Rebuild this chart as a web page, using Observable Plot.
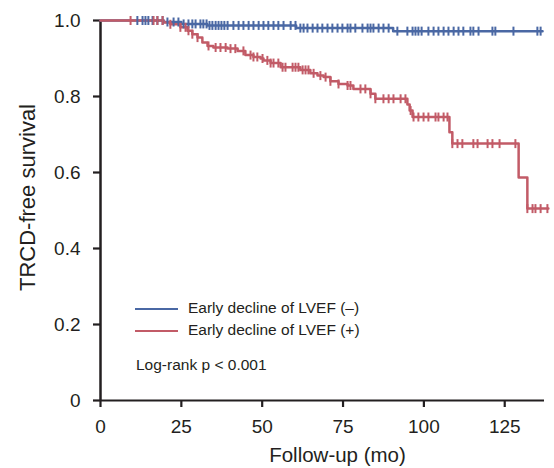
<!DOCTYPE html>
<html><head><meta charset="utf-8">
<script src="https://cdn.jsdelivr.net/npm/d3@7"></script>
<script src="https://cdn.jsdelivr.net/npm/@observablehq/plot@0.6"></script>
<style>
body{margin:0;background:#fff;font-family:"Liberation Sans",Arial,sans-serif;color:#231f20}
#wrap{position:relative;width:554px;height:468px}
.leg{position:absolute;font-size:15.5px;white-space:nowrap;line-height:1}
.leg .ln{position:absolute;width:43px;height:0;border-top:2.5px solid}
</style></head><body><div id="wrap"></div><script>
// Early decline of LVEF (–)
const blueTimes = [0, 19.5, 25, 33, 60.5, 90.5];
const blueSurv  = [1.0, 0.996, 0.991, 0.987, 0.980, 0.972];
const blueEnd = 136.7;
const blueCensor = [11.4,13.0,13.9,14.8,16.1,17.6,19.2,20.7,22.6,24.1,25.7,27.2,28.4,29.4,30.9,31.8,32.8,33.7,34.6,35.6,36.5,37.4,38.3,39.3,41.1,42.7,44.2,45.8,47.3,48.9,50.4,51.9,53.5,55.0,56.6,58.8,60.3,61.8,62.8,64.0,65.6,67.1,68.6,70.2,71.7,73.3,74.8,76.4,77.3,78.8,81.0,82.6,83.5,84.4,86.0,87.5,89.1,91.8,94.9,96.5,97.4,98.3,99.3,101.4,103.0,104.5,106.1,107.6,109.2,110.7,112.2,114.4,115.3,116.9,121.2,122.1,127.7,135.1,136.1];
// Early decline of LVEF (+)
const redTimes = [0,19.5,21.6,24.7,26.9,28.4,30.0,31.5,33.1,34.9,39.3,42.4,44.8,47.3,49.5,50.4,52.6,55.7,61.8,64.9,67.1,69.0,71.1,73.6,76.4,78.2,83.5,85.0,94.9,95.6,96.5,107.9,108.8,129.3,132.0];
const redSurv  = [1.0,0.995,0.990,0.982,0.973,0.964,0.955,0.942,0.933,0.929,0.926,0.920,0.909,0.904,0.900,0.895,0.888,0.877,0.870,0.861,0.855,0.851,0.840,0.833,0.829,0.820,0.807,0.794,0.779,0.763,0.746,0.706,0.676,0.587,0.505];
const redEnd = 138.5;
const redCensor = [9.3,16.4,17.6,19.2,21.6,24.7,26.3,27.2,28.4,30.0,33.4,35.6,37.1,38.7,40.2,41.7,44.2,46.4,47.3,48.5,50.1,51.6,52.6,53.5,55.0,56.3,57.2,59.4,60.3,61.2,62.5,63.4,64.3,65.9,68.0,69.6,71.1,73.6,76.4,77.3,80.4,81.9,83.5,85.0,87.5,89.1,90.6,92.8,94.3,95.9,96.8,98.3,99.9,101.4,103.6,104.5,106.1,107.3,108.8,110.4,111.9,115.3,116.6,119.7,121.2,123.4,128.3,132.0,133.6,134.5,136.1,138.2];

const xTicks = [0,25,50,75,100,125];
const yTicks = [0,0.2,0.4,0.6,0.8,1.0];
const seriesNames = ["Early decline of LVEF (\u2013)", "Early decline of LVEF (+)"];
const colors = ["#4a68a4", "#c25b67"];
const xLabel = "Follow-up (mo)";
const yLabel = "TRCD-free survival";
const pText = "Log-rank p < 0.001";

function survAt(times, surv, t){ let s = surv[0]; for (let i=0;i<times.length;i++) if (times[i] <= t) s = surv[i]; return s; }
function curve(times, surv, end){ const d = times.map((t,i)=>({t, s:surv[i]})); d.push({t:end, s:surv[surv.length-1]}); return d; }
function cens(times, surv, c){ return c.map(t=>({t, s:survAt(times, surv, t)})); }

const blueLine = curve(blueTimes, blueSurv, blueEnd);
const redLine = curve(redTimes, redSurv, redEnd);
const blueC = cens(blueTimes, blueSurv, blueCensor);
const redC = cens(redTimes, redSurv, redCensor);

const vbar = {draw(ctx){ ctx.moveTo(0,-4.5); ctx.lineTo(0,4.5); }};
const ink = "#231f20";
const ff = '"Liberation Sans", Arial, sans-serif';

const chart = Plot.plot({
  width: 554, height: 468,
  marginLeft: 100, marginRight: 10, marginTop: 20, marginBottom: 68,
  style: {fontFamily: ff, fontSize: "19px", color: ink, background: "white", overflow: "visible"},
  x: {domain: [0, 137.3]},
  y: {domain: [0, 1]},
  marks: [
    Plot.axisX({ticks: xTicks, tickSize: 7, tickPadding: 12, label: null, tickFormat: d => String(d), strokeWidth: 2.2, fontSize: 19}),
    Plot.axisY({ticks: yTicks, tickSize: 7, tickPadding: 13, label: null, tickFormat: d => d === 0 ? "0" : d.toFixed(1), strokeWidth: 2.2, fontSize: 19}),
    Plot.ruleX([0], {stroke: ink, strokeWidth: 2.5}),
    Plot.ruleY([0], {stroke: ink, strokeWidth: 2.2}),
    Plot.line(blueLine, {x: "t", y: "s", curve: "step-after", stroke: colors[0], strokeWidth: 2.5}),
    Plot.line(redLine, {x: "t", y: "s", curve: "step-after", stroke: colors[1], strokeWidth: 2.5}),
    Plot.dot(blueC, {x: "t", y: "s", symbol: vbar, stroke: colors[0], fill: "none", strokeWidth: 2}),
    Plot.dot(redC, {x: "t", y: "s", symbol: vbar, stroke: colors[1], fill: "none", strokeWidth: 2}),
    Plot.text([yLabel], {frameAnchor: "left", textAnchor: "middle", rotate: -90, dx: -73, dy: -13, fontSize: 22, fill: ink}),
    Plot.text([xLabel], {frameAnchor: "bottom", dx: 15, dy: 61, fontSize: 20.5, fill: ink})
  ]
});
const wrap = document.getElementById("wrap");
wrap.appendChild(chart);

function addLegend(top, name, color){
  const row = document.createElement("div");
  row.className = "leg"; row.style.left = "135px"; row.style.top = top + "px";
  const ln = document.createElement("div"); ln.className = "ln"; ln.style.borderTopColor = color; ln.style.left = "0px"; ln.style.top = "8px";
  const tx = document.createElement("span"); tx.textContent = name; tx.style.position = "absolute"; tx.style.left = "53px"; tx.style.top = "0px";
  row.appendChild(ln); row.appendChild(tx); wrap.appendChild(row);
}
addLegend(300, seriesNames[0], colors[0]);
addLegend(322, seriesNames[1], colors[1]);
const p = document.createElement("div"); p.className = "leg"; p.style.left = "136px"; p.style.top = "357px"; p.textContent = pText; wrap.appendChild(p);
</script></body></html>
